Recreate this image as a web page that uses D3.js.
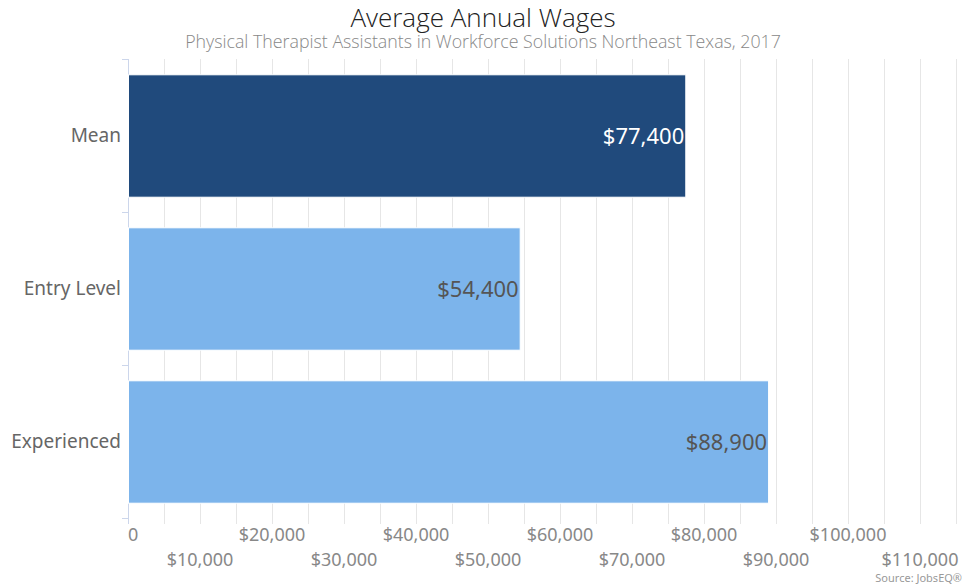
<!DOCTYPE html>
<html><head><meta charset="utf-8">
<script src="https://cdn.jsdelivr.net/npm/d3@7"></script>
<style>body{margin:0;background:#fff}svg{display:block}</style>
</head><body>
<svg id="c" width="966" height="587"></svg>
<script>
const categories = ["Mean", "Entry Level", "Experienced"];
const values = [77400, 54400, 88900];
const barColors = ["#204a7c", "#7cb4eb", "#7cb4eb"];
const labelColors = ["#ffffff", "#555555", "#555555"];
const tickValues = [0,10000,20000,30000,40000,50000,60000,70000,80000,90000,100000,110000];
const gridValues = d3.range(0, 115001, 5000);
const title = "Average Annual Wages";
const subtitle = "Physical Therapist Assistants in Workforce Solutions Northeast Texas, 2017";
const source = "Source: JobsEQ®";

const svg = d3.select("#c");
const W = 966, H = 587;
const m = {left:128, right:10, top:59, bottom:69};
const x = d3.scaleLinear().domain([0,115000]).range([m.left, m.left + 828]);
const y = d3.scaleBand().domain(categories).range([m.top, H - m.bottom]).paddingInner(0.2).paddingOuter(0.1);
const yOuter = d3.scaleBand().domain(categories).range([m.top, H - m.bottom]);
const font = "'Noto Sans', sans-serif";
const fmt = v => v === 0 ? "0" : "$" + d3.format(",")(v);

// grid
svg.append("g").selectAll("line").data(gridValues.slice(1)).join("line")
  .attr("x1", d => Math.round(x(d)) + 0.5).attr("x2", d => Math.round(x(d)) + 0.5)
  .attr("y1", m.top).attr("y2", H - m.bottom + 6)
  .attr("stroke", "#e6e6e6").attr("stroke-width", 1);

// y axis line and ticks
const yb = H - m.bottom;
svg.append("line").attr("x1", m.left + 0.5).attr("x2", m.left + 0.5).attr("y1", m.top).attr("y2", yb + 6)
  .attr("stroke", "#ccd6eb");
const bounds = categories.map(c => yOuter(c)).concat([yb]);
svg.append("g").selectAll("line").data(bounds).join("line")
  .attr("x1", m.left - 6).attr("x2", m.left).attr("y1", d => d + 0.5).attr("y2", d => d + 0.5)
  .attr("stroke", "#ccd6eb");

// bars
svg.append("g").selectAll("rect").data(values).join("rect")
  .attr("x", x(0) + 0.5)
  .attr("y", (d,i) => y(categories[i]) + 0.5)
  .attr("width", d => x(d) - x(0))
  .attr("height", y.bandwidth())
  .attr("fill", (d,i) => barColors[i])
  .attr("stroke", "#ffffff").attr("stroke-width", 1);

// value labels
svg.append("g").selectAll("text").data(values).join("text")
  .attr("x", d => x(d) - 1)
  .attr("y", (d,i) => y(categories[i]) + y.bandwidth()/2 + 8)
  .attr("text-anchor", "end")
  .attr("font-family", font).attr("font-size", 22)
  .attr("fill", (d,i) => labelColors[i])
  .text(d => "$" + d3.format(",")(d));

// category labels
svg.append("g").selectAll("text").data(categories).join("text")
  .attr("x", m.left - 7)
  .attr("y", d => yOuter(d) + yOuter.bandwidth()/2 + 6)
  .attr("text-anchor", "end")
  .attr("font-family", font).attr("font-size", 19)
  .attr("fill", "#666666")
  .text(d => d);

// x tick labels (staggered)
svg.append("g").selectAll("text").data(tickValues).join("text")
  .attr("x", d => x(d))
  .attr("y", (d,i) => i % 2 === 0 ? 541 : 566)
  .attr("text-anchor", d => d === 0 ? "start" : "middle")
  .attr("font-family", font).attr("font-size", 18)
  .attr("fill", "#888888")
  .text(fmt);

// titles
svg.append("text").attr("x", W/2).attr("y", 27).attr("text-anchor", "middle")
  .attr("font-family", "'Open Sans', sans-serif").attr("font-weight", 300).attr("font-size", 26)
  .attr("fill", "#222").text(title);
svg.append("text").attr("x", W/2).attr("y", 48).attr("text-anchor", "middle")
  .attr("font-family", "'Open Sans', sans-serif").attr("font-weight", 300).attr("font-size", 17.8)
  .attr("fill", "#888").text(subtitle);
svg.append("text").attr("x", 962).attr("y", 582).attr("text-anchor", "end")
  .attr("font-family", font).attr("font-size", 11)
  .attr("fill", "#999").text(source);
</script>
</body></html>
